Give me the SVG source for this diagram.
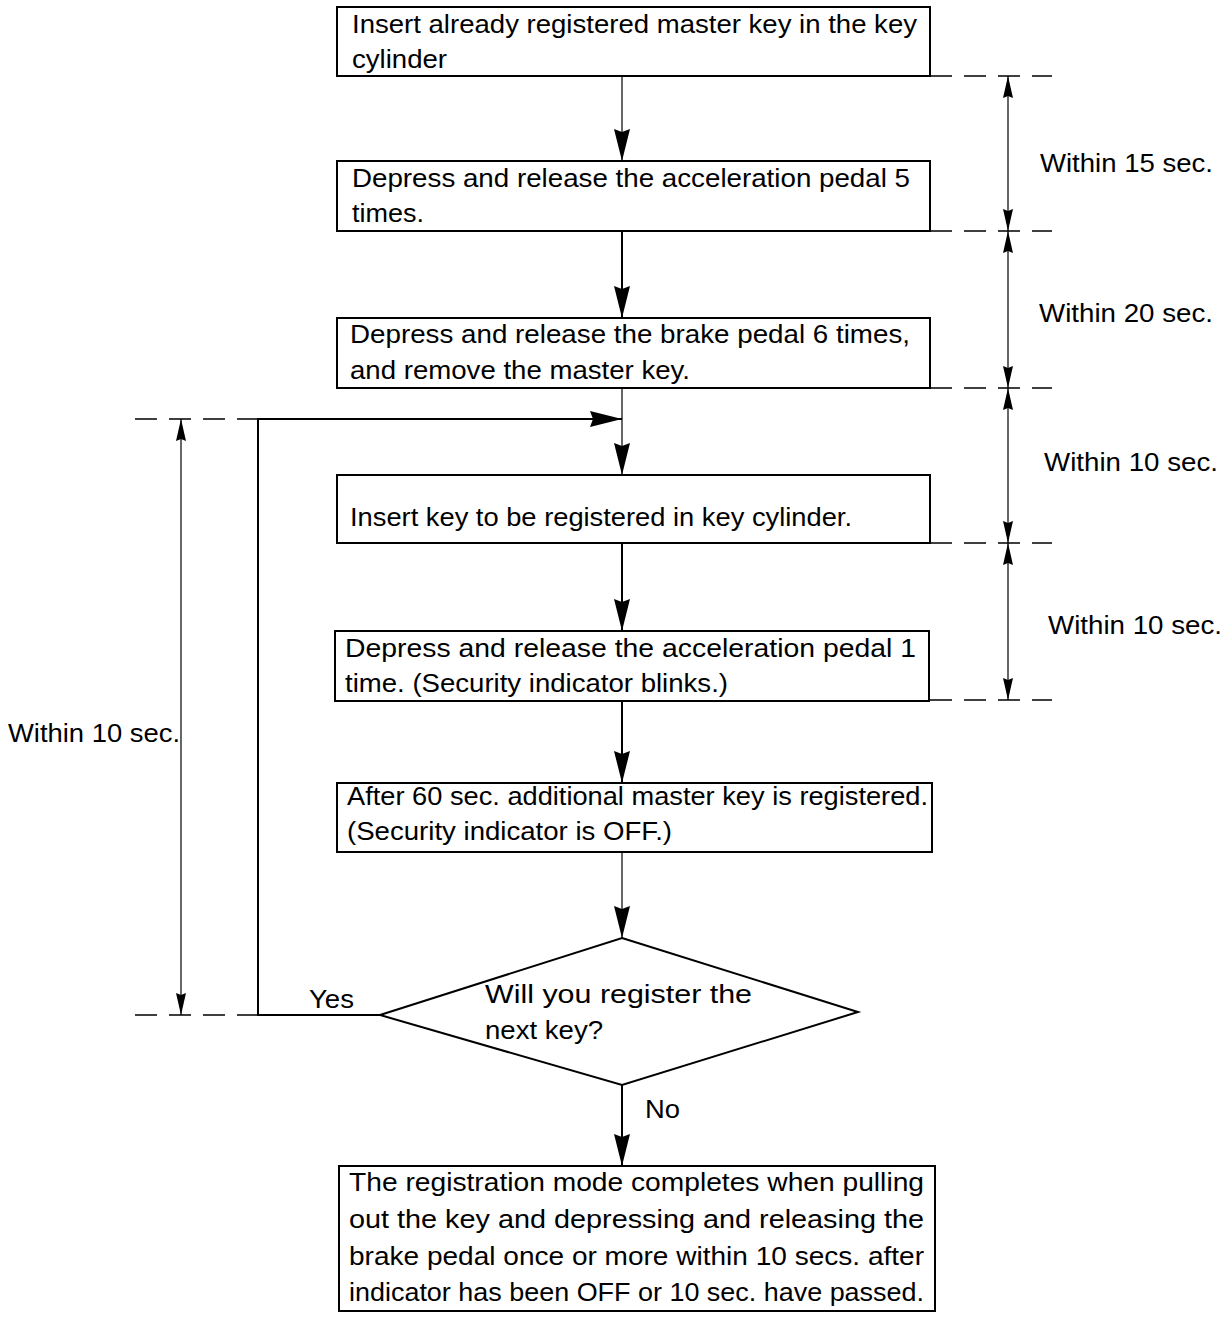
<svg xmlns="http://www.w3.org/2000/svg" width="1232" height="1318" viewBox="0 0 1232 1318">
<style>
.box{fill:#fff;stroke:#000;stroke-width:2}
.t{font-family:"Liberation Sans",Arial,sans-serif;font-size:26px;fill:#000}
.ln{stroke:#000;stroke-width:2;fill:none}
.thin{stroke:#000;stroke-width:1.2;fill:none}
.dash{stroke:#000;stroke-width:1.5;fill:none;stroke-dasharray:22,12}
</style>
<defs>
<marker id="arr" viewBox="0 0 32 16" refX="32" refY="8" markerWidth="32" markerHeight="16" markerUnits="userSpaceOnUse" orient="auto">
<path d="M0,0 L32,8 L0,16 L3,8 Z" fill="#000"/>
</marker>
<marker id="dim" viewBox="0 0 22 10" refX="22" refY="5" markerWidth="22" markerHeight="10" markerUnits="userSpaceOnUse" orient="auto-start-reverse">
<path d="M0,0 L22,5 L0,10 L2,5 Z" fill="#000"/>
</marker>
</defs>
<rect width="1232" height="1318" fill="#fff"/>
<g id="connectors">
<line class="thin" x1="622" y1="76" x2="622" y2="161" marker-end="url(#arr)"/>
<line class="ln" x1="622" y1="231" x2="622" y2="318" marker-end="url(#arr)"/>
<line class="thin" x1="622" y1="388" x2="622" y2="475" marker-end="url(#arr)"/>
<line class="ln" x1="622" y1="543" x2="622" y2="631" marker-end="url(#arr)"/>
<line class="ln" x1="622" y1="701" x2="622" y2="783" marker-end="url(#arr)"/>
<line class="thin" x1="622" y1="852" x2="622" y2="938" marker-end="url(#arr)"/>
<line class="ln" x1="622" y1="1085" x2="622" y2="1166" marker-end="url(#arr)"/>
<polyline class="ln" points="380,1015 258,1015 258,419 622,419" marker-end="url(#arr)"/>
<line class="dash" x1="930" y1="76" x2="1052" y2="76"/>
<line class="dash" x1="930" y1="231" x2="1052" y2="231"/>
<line class="dash" x1="930" y1="388" x2="1052" y2="388"/>
<line class="dash" x1="930" y1="543" x2="1052" y2="543"/>
<line class="dash" x1="930" y1="700" x2="1052" y2="700"/>
<line class="thin" x1="1008" y1="76" x2="1008" y2="231" marker-start="url(#dim)" marker-end="url(#dim)"/>
<line class="thin" x1="1008" y1="231" x2="1008" y2="388" marker-start="url(#dim)" marker-end="url(#dim)"/>
<line class="thin" x1="1008" y1="388" x2="1008" y2="543" marker-start="url(#dim)" marker-end="url(#dim)"/>
<line class="thin" x1="1008" y1="543" x2="1008" y2="700" marker-start="url(#dim)" marker-end="url(#dim)"/>
<line class="dash" x1="135" y1="419" x2="258" y2="419"/>
<line class="dash" x1="135" y1="1015" x2="258" y2="1015"/>
<line class="thin" x1="181" y1="419" x2="181" y2="1015" marker-start="url(#dim)" marker-end="url(#dim)"/>
</g>
<g id="n1">
<rect class="box" x="337" y="7" width="593" height="69"/>
<text class="t" x="352" y="33" textLength="565" lengthAdjust="spacingAndGlyphs">Insert already registered master key in the key</text>
<text class="t" x="352" y="68" textLength="95" lengthAdjust="spacingAndGlyphs">cylinder</text>
</g>
<g id="n2">
<rect class="box" x="337" y="161" width="593" height="70"/>
<text class="t" x="352" y="187" textLength="558" lengthAdjust="spacingAndGlyphs">Depress and release the acceleration pedal 5</text>
<text class="t" x="352" y="222" textLength="72" lengthAdjust="spacingAndGlyphs">times.</text>
</g>
<g id="n3">
<rect class="box" x="337" y="318" width="593" height="70"/>
<text class="t" x="350" y="343" textLength="560" lengthAdjust="spacingAndGlyphs">Depress and release the brake pedal 6 times,</text>
<text class="t" x="350" y="379" textLength="340" lengthAdjust="spacingAndGlyphs">and remove the master key.</text>
</g>
<g id="n4">
<rect class="box" x="337" y="475" width="593" height="68"/>
<text class="t" x="350" y="526" textLength="502" lengthAdjust="spacingAndGlyphs">Insert key to be registered in key cylinder.</text>
</g>
<g id="n5">
<rect class="box" x="335" y="631" width="594" height="70"/>
<text class="t" x="345" y="657" textLength="571" lengthAdjust="spacingAndGlyphs">Depress and release the acceleration pedal 1</text>
<text class="t" x="345" y="692" textLength="383" lengthAdjust="spacingAndGlyphs">time. (Security indicator blinks.)</text>
</g>
<g id="n6">
<rect class="box" x="337" y="783" width="595" height="69"/>
<text class="t" x="347" y="805" textLength="581" lengthAdjust="spacingAndGlyphs">After 60 sec. additional master key is registered.</text>
<text class="t" x="347" y="840" textLength="325" lengthAdjust="spacingAndGlyphs">(Security indicator is OFF.)</text>
</g>
<g id="n7">
<polygon class="box" points="622,938 858,1012 622,1085 380,1015"/>
<text class="t" x="485" y="1003" textLength="267" lengthAdjust="spacingAndGlyphs">Will you register the</text>
<text class="t" x="485" y="1039" textLength="118" lengthAdjust="spacingAndGlyphs">next key?</text>
</g>
<g id="n8">
<rect class="box" x="339" y="1166" width="596" height="145"/>
<text class="t" x="349" y="1191" textLength="575" lengthAdjust="spacingAndGlyphs">The registration mode completes when pulling</text>
<text class="t" x="349" y="1228" textLength="575" lengthAdjust="spacingAndGlyphs">out the key and depressing and releasing the</text>
<text class="t" x="349" y="1265" textLength="575" lengthAdjust="spacingAndGlyphs">brake pedal once or more within 10 secs. after</text>
<text class="t" x="349" y="1301" textLength="575" lengthAdjust="spacingAndGlyphs">indicator has been OFF or 10 sec. have passed.</text>
</g>
<g id="labels">
<text class="t" x="309" y="1008" textLength="45" lengthAdjust="spacingAndGlyphs">Yes</text>
<text class="t" x="645" y="1118" textLength="35" lengthAdjust="spacingAndGlyphs">No</text>
<text class="t" x="1040" y="172" textLength="173" lengthAdjust="spacingAndGlyphs">Within 15 sec.</text>
<text class="t" x="1039" y="322" textLength="174" lengthAdjust="spacingAndGlyphs">Within 20 sec.</text>
<text class="t" x="1044" y="471" textLength="174" lengthAdjust="spacingAndGlyphs">Within 10 sec.</text>
<text class="t" x="1048" y="634" textLength="174" lengthAdjust="spacingAndGlyphs">Within 10 sec.</text>
<text class="t" x="8" y="742" textLength="172" lengthAdjust="spacingAndGlyphs">Within 10 sec.</text>
</g>
</svg>
